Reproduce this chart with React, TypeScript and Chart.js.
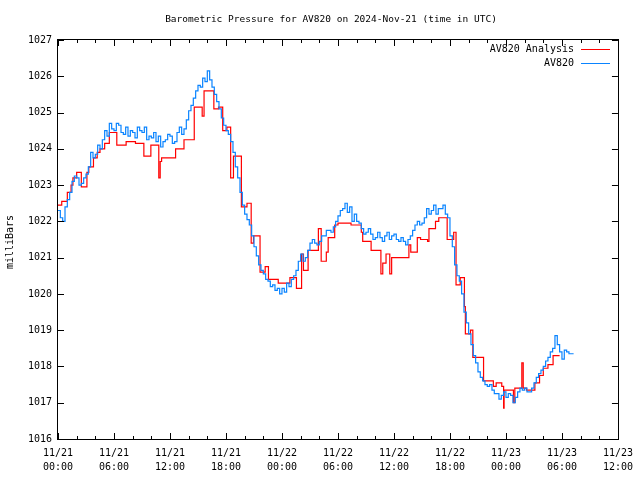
import React, { useEffect, useRef } from "react";
import { Chart, registerables } from "chart.js";

Chart.register(...registerables);

const TITLE = "Barometric Pressure for AV820 on 2024-Nov-21 (time in UTC)";
const Y_LABEL = "milliBars";
const SERIES_NAMES = ["AV820 Analysis", "AV820"];
const SERIES_COLORS = ["#ff0000", "#0a84ff"];

const X_TICK_HOURS = [0, 6, 12, 18, 24, 30, 36, 42, 48, 54, 60];
const X_TICK_DATES = ["11/21", "11/21", "11/21", "11/21", "11/22", "11/22", "11/22", "11/22", "11/23", "11/23", "11/23"];
const X_TICK_TIMES = ["00:00", "06:00", "12:00", "18:00", "00:00", "06:00", "12:00", "18:00", "00:00", "06:00", "12:00"];
const Y_TICKS = [1016, 1017, 1018, 1019, 1020, 1021, 1022, 1023, 1024, 1025, 1026, 1027];

// Analysis (red) step series: hours since 11/21 00:00 UTC and pressure (mb)
const analysisHours = [
  0, 0.4, 1.0, 1.4, 1.6, 2.0, 2.5, 3.1, 3.3, 3.8, 4.2, 4.5, 5.0, 5.5, 6.3, 7.3, 8.3, 9.2, 9.95,
  10.8, 10.95, 11.1, 12.6, 13.5, 14.6, 15.45, 15.65, 16.7, 17.2, 17.65, 18.1, 18.5, 18.8, 19.65,
  20.25, 20.7, 20.95, 21.65, 22.2, 22.55, 23.6, 24.85, 25.55, 26.1, 26.3, 26.8, 27.9, 28.2, 28.75,
  28.95, 29.65, 30.0, 31.4, 32.5, 32.65, 33.55, 34.6, 34.8, 35.15, 35.55, 35.75, 37.6, 37.8, 38.5,
  38.85, 39.6, 39.75, 40.45, 40.8, 41.7, 42.4, 42.65, 43.1, 43.55, 43.65, 44.2, 44.45, 45.6, 46.65,
  46.95, 47.55, 47.75, 47.8, 48.8, 48.95, 49.7, 49.85, 50.2, 51.1, 51.6, 52.0, 52.5, 53.05, 53.75,
];
const analysisValues = [
  1022.45, 1022.55, 1022.8, 1023.0, 1023.2, 1023.35, 1022.95, 1023.35, 1023.5, 1023.75, 1023.9, 1024.0, 1024.15, 1024.45, 1024.1, 1024.2, 1024.15, 1023.8, 1024.1,
  1023.2, 1023.65, 1023.75, 1024.0, 1024.25, 1025.15, 1024.9, 1025.6, 1025.1, 1025.15, 1024.5, 1024.6, 1023.2, 1023.8, 1022.4,
  1022.5, 1021.4, 1021.6, 1020.6, 1020.75, 1020.4, 1020.3, 1020.45, 1020.15, 1021.1, 1020.65, 1021.2, 1021.8, 1020.9, 1021.15,
  1021.55, 1021.9, 1021.95, 1021.9, 1021.7, 1021.45, 1021.2, 1020.55, 1020.85, 1021.1, 1020.55, 1021.0, 1021.35, 1021.15, 1021.55,
  1021.5, 1021.45, 1021.8, 1022.0, 1022.1, 1021.5, 1021.7, 1020.25, 1020.45, 1019.65, 1018.9, 1019.0, 1018.25, 1017.6, 1017.45,
  1017.55, 1017.45, 1016.85, 1017.35, 1017.0, 1017.4, 1018.1, 1017.4, 1017.35, 1017.55, 1017.75, 1017.95, 1018.05, 1018.3, 1018.3,
];

// Station (blue) observations, one every quarter hour from 11/21 00:00 UTC
const STATION_START_HOUR = 0;
const STATION_STEP_HOURS = 0.25;
const stationValues = [
  1022.3, 1022.1, 1022.0, 1022.4, 1022.6, 1022.8, 1023.1, 1023.25,
  1023.2, 1023.0, 1023.05, 1023.2, 1023.3, 1023.5, 1023.9, 1023.75,
  1023.85, 1024.1, 1024.0, 1024.25, 1024.5, 1024.35, 1024.7, 1024.55,
  1024.5, 1024.7, 1024.65, 1024.45, 1024.4, 1024.6, 1024.35, 1024.5,
  1024.45, 1024.3, 1024.6, 1024.5, 1024.45, 1024.6, 1024.25, 1024.35,
  1024.3, 1024.45, 1024.2, 1024.35, 1024.05, 1024.2, 1024.25, 1024.4,
  1024.35, 1024.15, 1024.2, 1024.45, 1024.6, 1024.4, 1024.55, 1024.8,
  1025.05, 1025.2, 1025.4, 1025.6, 1025.75, 1025.7, 1025.95, 1025.85,
  1026.15, 1025.9, 1025.7, 1025.5, 1025.3, 1025.1, 1024.85, 1024.65,
  1024.5, 1024.4, 1024.2, 1023.9, 1023.5, 1023.2, 1022.8, 1022.45,
  1022.2, 1022.05, 1021.9, 1021.6, 1021.3, 1021.05, 1020.8, 1020.65,
  1020.55, 1020.4, 1020.35, 1020.2, 1020.25, 1020.1, 1020.15, 1020.0,
  1020.15, 1020.05, 1020.3, 1020.2, 1020.4, 1020.5, 1020.65, 1020.9,
  1021.1, 1020.9, 1021.0, 1021.2, 1021.4, 1021.5, 1021.4, 1021.35,
  1021.45, 1021.6, 1021.6, 1021.75, 1021.75, 1021.7, 1021.85, 1022.0,
  1022.15, 1022.3, 1022.35, 1022.5, 1022.25, 1022.4, 1022.0, 1022.2,
  1022.0, 1021.95, 1021.8, 1021.65, 1021.7, 1021.8, 1021.65, 1021.5,
  1021.55, 1021.7, 1021.55, 1021.45, 1021.6, 1021.7, 1021.5, 1021.6,
  1021.65, 1021.5, 1021.45, 1021.55, 1021.45, 1021.35, 1021.5, 1021.6,
  1021.75, 1021.9, 1022.0, 1021.9, 1021.95, 1022.1, 1022.35, 1022.2,
  1022.3, 1022.45, 1022.2, 1022.35, 1022.35, 1022.45, 1022.2, 1022.1,
  1021.6, 1021.3, 1020.8, 1020.5, 1020.35, 1020.0, 1019.5, 1019.2,
  1018.9, 1018.6, 1018.3, 1018.1, 1017.85, 1017.7, 1017.6, 1017.5,
  1017.45, 1017.5, 1017.35, 1017.25, 1017.25, 1017.1, 1017.2, 1017.3,
  1017.15, 1017.25, 1017.2, 1017.0, 1017.15, 1017.3, 1017.4, 1017.35,
  1017.4, 1017.3, 1017.3, 1017.4, 1017.55, 1017.7, 1017.8, 1017.9,
  1018.0, 1018.15, 1018.25, 1018.4, 1018.5, 1018.85, 1018.6, 1018.4,
  1018.2, 1018.45, 1018.4, 1018.35, 1018.35, 1018.35,
];

const FONT = "'DejaVu Sans Mono', 'Liberation Mono', monospace";

const framePlugin = {
  id: "gnuplotFrame",
  afterDraw(chart: any) {
    const { ctx, chartArea } = chart;
    const { left, right, top, bottom } = chartArea;
    const xs = chart.scales.x;
    const ys = chart.scales.y;
    ctx.save();
    ctx.strokeStyle = "#000";
    ctx.lineWidth = 1;
    // border
    ctx.strokeRect(Math.round(left) - 0.5, Math.round(top) - 0.5, Math.round(right - left) + 1, Math.round(bottom - top) + 1);
    ctx.beginPath();
    // x ticks (major every 6h, minor every 2h), inward, mirrored at top
    for (let h = 0; h <= 60; h += 2) {
      const px = Math.round(xs.getPixelForValue(h)) + 0.5;
      const len = h % 6 === 0 ? 6 : 3;
      ctx.moveTo(px, bottom);
      ctx.lineTo(px, bottom - len);
      ctx.moveTo(px, top);
      ctx.lineTo(px, top + len);
    }
    // y ticks, inward, mirrored at right
    for (const v of Y_TICKS) {
      const py = Math.round(ys.getPixelForValue(v)) + 0.5;
      ctx.moveTo(left, py);
      ctx.lineTo(left + 6, py);
      ctx.moveTo(right, py);
      ctx.lineTo(right - 6, py);
    }
    ctx.stroke();

    ctx.fillStyle = "#000";
    // title
    ctx.font = `9.5px ${FONT}`;
    ctx.textAlign = "center";
    ctx.textBaseline = "middle";
    ctx.fillText(TITLE, 331, 20);
    // y label
    ctx.font = `10px ${FONT}`;
    ctx.save();
    ctx.translate(10, 242);
    ctx.rotate(-Math.PI / 2);
    ctx.fillText(Y_LABEL, 0, 0);
    ctx.restore();
    // legend
    ctx.textAlign = "right";
    const legendY = [49, 63];
    SERIES_NAMES.forEach((name, i) => {
      ctx.fillStyle = "#000";
      ctx.fillText(name, 574, legendY[i]);
      ctx.strokeStyle = SERIES_COLORS[i];
      ctx.beginPath();
      ctx.moveTo(581, legendY[i] + 0.5);
      ctx.lineTo(610, legendY[i] + 0.5);
      ctx.stroke();
    });
    ctx.restore();
  },
};

export default function App() {
  const canvasRef = useRef<HTMLCanvasElement | null>(null);

  useEffect(() => {
    document.body.style.margin = "0";
    const canvas = canvasRef.current;
    if (!canvas) return;
    const analysisData = analysisHours.map((h, i) => ({ x: h, y: analysisValues[i] }));
    const stationData = stationValues.map((v, i) => ({ x: STATION_START_HOUR + i * STATION_STEP_HOURS, y: v }));

    const chart = new Chart(canvas, {
      type: "line",
      data: {
        datasets: [
          {
            label: SERIES_NAMES[0],
            data: analysisData,
            borderColor: SERIES_COLORS[0],
            borderWidth: 1.2,
            pointRadius: 0,
            stepped: "before",
            fill: false,
            order: 1,
          },
          {
            label: SERIES_NAMES[1],
            data: stationData,
            borderColor: SERIES_COLORS[1],
            borderWidth: 1.2,
            pointRadius: 0,
            stepped: "before",
            fill: false,
            order: 0,
          },
        ],
      },
      options: {
        responsive: false,
        animation: false,
        devicePixelRatio: 1,
        layout: { padding: { left: 0, right: 18, top: 40, bottom: 0 } },
        plugins: {
          legend: { display: false },
          title: { display: false },
          tooltip: { enabled: false },
        },
        scales: {
          x: {
            type: "linear",
            min: 0,
            max: 60,
            grid: { display: false, drawTicks: false },
            border: { display: false },
            afterFit: (s: any) => {
              s.height = 41;
            },
            afterBuildTicks: (s: any) => {
              s.ticks = X_TICK_HOURS.map((h) => ({ value: h }));
            },
            ticks: {
              autoSkip: false,
              maxRotation: 0,
              padding: 7,
              color: "#000",
              font: { family: FONT, size: 10, lineHeight: 1.4 },
              callback: (value: any) => {
                const i = X_TICK_HOURS.indexOf(Number(value));
                return i >= 0 ? [X_TICK_DATES[i], X_TICK_TIMES[i]] : "";
              },
            },
          },
          y: {
            type: "linear",
            min: 1016,
            max: 1027,
            grid: { display: false, drawTicks: false },
            border: { display: false },
            afterFit: (s: any) => {
              s.width = 58;
            },
            afterBuildTicks: (s: any) => {
              s.ticks = Y_TICKS.map((v) => ({ value: v }));
            },
            ticks: {
              padding: 6,
              color: "#000",
              font: { family: FONT, size: 10 },
              callback: (value: any) => String(value),
            },
          },
        },
      },
      plugins: [framePlugin],
    });
    return () => chart.destroy();
  }, []);

  return (
    <div style={{ position: "absolute", left: 0, top: 0, width: 640, height: 480, background: "#fff" }}>
      <canvas ref={canvasRef} width={640} height={480} />
    </div>
  );
}
